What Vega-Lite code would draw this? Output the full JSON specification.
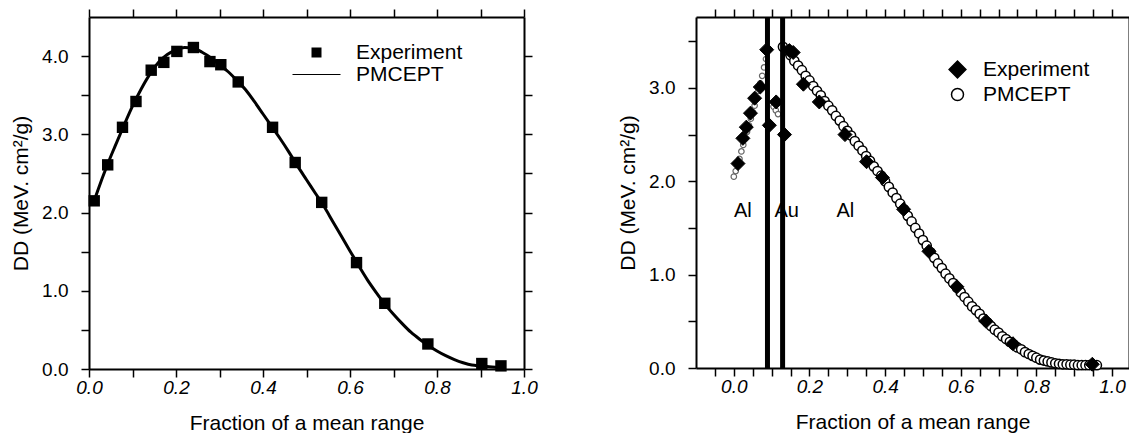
{
  "$schema": "https://vega.github.io/schema/vega-lite/v6.json",
  "background": "white",
  "padding": {"left": 10, "top": 8, "right": 0, "bottom": 0},
  "config": {
    "font": "Liberation Sans",
    "view": {"stroke": null},
    "axis": {"grid": false, "domainColor": "#000", "domainWidth": 2, "tickColor": "#000", "tickWidth": 1.5, "tickSize": 8, "labelFontSize": 19, "labelColor": "#000", "titleFontSize": 21, "titleFontWeight": "normal", "titleColor": "#000", "labelFlush": false, "labelOverlap": false},
    "axisX": {"labelPadding": 1, "titlePadding": 15},
    "axisY": {"labelPadding": 13, "titlePadding": 10},
    "legend": {"labelFontSize": 21, "labelColor": "#000"}
  },
  "datasets": {
    "leftExp": [
      {"x": 0.012, "y": 2.15, "series": "Experiment"},
      {"x": 0.043, "y": 2.61, "series": "Experiment"},
      {"x": 0.077, "y": 3.09, "series": "Experiment"},
      {"x": 0.108, "y": 3.42, "series": "Experiment"},
      {"x": 0.143, "y": 3.82, "series": "Experiment"},
      {"x": 0.172, "y": 3.92, "series": "Experiment"},
      {"x": 0.202, "y": 4.06, "series": "Experiment"},
      {"x": 0.240, "y": 4.11, "series": "Experiment"},
      {"x": 0.278, "y": 3.93, "series": "Experiment"},
      {"x": 0.303, "y": 3.89, "series": "Experiment"},
      {"x": 0.343, "y": 3.67, "series": "Experiment"},
      {"x": 0.422, "y": 3.09, "series": "Experiment"},
      {"x": 0.474, "y": 2.64, "series": "Experiment"},
      {"x": 0.535, "y": 2.13, "series": "Experiment"},
      {"x": 0.615, "y": 1.36, "series": "Experiment"},
      {"x": 0.680, "y": 0.84, "series": "Experiment"},
      {"x": 0.779, "y": 0.32, "series": "Experiment"},
      {"x": 0.903, "y": 0.07, "series": "Experiment"},
      {"x": 0.947, "y": 0.04, "series": "Experiment"}
    ],
    "leftCurve": [
      {"x": 0.01, "y": 2.12}, {"x": 0.02, "y": 2.28}, {"x": 0.04, "y": 2.58}, {"x": 0.06, "y": 2.85},
      {"x": 0.08, "y": 3.11}, {"x": 0.10, "y": 3.36}, {"x": 0.12, "y": 3.58}, {"x": 0.14, "y": 3.77},
      {"x": 0.16, "y": 3.92}, {"x": 0.18, "y": 4.02}, {"x": 0.20, "y": 4.08}, {"x": 0.22, "y": 4.11},
      {"x": 0.24, "y": 4.10}, {"x": 0.26, "y": 4.05}, {"x": 0.28, "y": 3.98}, {"x": 0.30, "y": 3.89},
      {"x": 0.32, "y": 3.80}, {"x": 0.34, "y": 3.69}, {"x": 0.36, "y": 3.57}, {"x": 0.38, "y": 3.42},
      {"x": 0.40, "y": 3.26}, {"x": 0.42, "y": 3.10}, {"x": 0.44, "y": 2.94}, {"x": 0.46, "y": 2.77},
      {"x": 0.48, "y": 2.59}, {"x": 0.50, "y": 2.42}, {"x": 0.52, "y": 2.25}, {"x": 0.54, "y": 2.08},
      {"x": 0.56, "y": 1.89}, {"x": 0.58, "y": 1.70}, {"x": 0.60, "y": 1.51}, {"x": 0.62, "y": 1.32},
      {"x": 0.64, "y": 1.14}, {"x": 0.66, "y": 0.98}, {"x": 0.68, "y": 0.83}, {"x": 0.70, "y": 0.70},
      {"x": 0.72, "y": 0.58}, {"x": 0.74, "y": 0.47}, {"x": 0.76, "y": 0.38}, {"x": 0.78, "y": 0.30},
      {"x": 0.80, "y": 0.23}, {"x": 0.82, "y": 0.17}, {"x": 0.84, "y": 0.12}, {"x": 0.86, "y": 0.08},
      {"x": 0.88, "y": 0.05}, {"x": 0.90, "y": 0.04}, {"x": 0.92, "y": 0.03}, {"x": 0.955, "y": 0.02}
    ],
    "rightSim": [
      {"x": 0.13, "y": 3.44, "series": "PMCEPT"}, {"x": 0.14, "y": 3.40, "series": "PMCEPT"},
      {"x": 0.15, "y": 3.35, "series": "PMCEPT"}, {"x": 0.16, "y": 3.29, "series": "PMCEPT"},
      {"x": 0.17, "y": 3.24, "series": "PMCEPT"}, {"x": 0.18, "y": 3.19, "series": "PMCEPT"},
      {"x": 0.19, "y": 3.13, "series": "PMCEPT"}, {"x": 0.20, "y": 3.08, "series": "PMCEPT"},
      {"x": 0.21, "y": 3.02, "series": "PMCEPT"}, {"x": 0.22, "y": 2.97, "series": "PMCEPT"},
      {"x": 0.23, "y": 2.92, "series": "PMCEPT"}, {"x": 0.24, "y": 2.86, "series": "PMCEPT"},
      {"x": 0.25, "y": 2.81, "series": "PMCEPT"}, {"x": 0.26, "y": 2.76, "series": "PMCEPT"},
      {"x": 0.27, "y": 2.70, "series": "PMCEPT"}, {"x": 0.28, "y": 2.65, "series": "PMCEPT"},
      {"x": 0.29, "y": 2.59, "series": "PMCEPT"}, {"x": 0.30, "y": 2.54, "series": "PMCEPT"},
      {"x": 0.31, "y": 2.49, "series": "PMCEPT"}, {"x": 0.32, "y": 2.43, "series": "PMCEPT"},
      {"x": 0.33, "y": 2.38, "series": "PMCEPT"}, {"x": 0.34, "y": 2.33, "series": "PMCEPT"},
      {"x": 0.35, "y": 2.27, "series": "PMCEPT"}, {"x": 0.36, "y": 2.22, "series": "PMCEPT"},
      {"x": 0.37, "y": 2.16, "series": "PMCEPT"}, {"x": 0.38, "y": 2.11, "series": "PMCEPT"},
      {"x": 0.39, "y": 2.06, "series": "PMCEPT"}, {"x": 0.40, "y": 2.00, "series": "PMCEPT"},
      {"x": 0.41, "y": 1.94, "series": "PMCEPT"}, {"x": 0.42, "y": 1.88, "series": "PMCEPT"},
      {"x": 0.43, "y": 1.82, "series": "PMCEPT"}, {"x": 0.44, "y": 1.76, "series": "PMCEPT"},
      {"x": 0.45, "y": 1.70, "series": "PMCEPT"}, {"x": 0.46, "y": 1.63, "series": "PMCEPT"},
      {"x": 0.47, "y": 1.57, "series": "PMCEPT"}, {"x": 0.48, "y": 1.50, "series": "PMCEPT"},
      {"x": 0.49, "y": 1.44, "series": "PMCEPT"}, {"x": 0.50, "y": 1.37, "series": "PMCEPT"},
      {"x": 0.51, "y": 1.31, "series": "PMCEPT"}, {"x": 0.52, "y": 1.24, "series": "PMCEPT"},
      {"x": 0.53, "y": 1.18, "series": "PMCEPT"}, {"x": 0.54, "y": 1.12, "series": "PMCEPT"},
      {"x": 0.55, "y": 1.07, "series": "PMCEPT"}, {"x": 0.56, "y": 1.01, "series": "PMCEPT"},
      {"x": 0.57, "y": 0.96, "series": "PMCEPT"}, {"x": 0.58, "y": 0.91, "series": "PMCEPT"},
      {"x": 0.59, "y": 0.86, "series": "PMCEPT"}, {"x": 0.60, "y": 0.81, "series": "PMCEPT"},
      {"x": 0.61, "y": 0.76, "series": "PMCEPT"}, {"x": 0.62, "y": 0.71, "series": "PMCEPT"},
      {"x": 0.63, "y": 0.66, "series": "PMCEPT"}, {"x": 0.64, "y": 0.62, "series": "PMCEPT"},
      {"x": 0.65, "y": 0.58, "series": "PMCEPT"}, {"x": 0.66, "y": 0.53, "series": "PMCEPT"},
      {"x": 0.67, "y": 0.49, "series": "PMCEPT"}, {"x": 0.68, "y": 0.45, "series": "PMCEPT"},
      {"x": 0.69, "y": 0.41, "series": "PMCEPT"}, {"x": 0.70, "y": 0.38, "series": "PMCEPT"},
      {"x": 0.71, "y": 0.34, "series": "PMCEPT"}, {"x": 0.72, "y": 0.31, "series": "PMCEPT"},
      {"x": 0.73, "y": 0.28, "series": "PMCEPT"}, {"x": 0.74, "y": 0.25, "series": "PMCEPT"},
      {"x": 0.75, "y": 0.22, "series": "PMCEPT"}, {"x": 0.76, "y": 0.20, "series": "PMCEPT"},
      {"x": 0.77, "y": 0.17, "series": "PMCEPT"}, {"x": 0.78, "y": 0.15, "series": "PMCEPT"},
      {"x": 0.79, "y": 0.13, "series": "PMCEPT"}, {"x": 0.80, "y": 0.11, "series": "PMCEPT"},
      {"x": 0.81, "y": 0.09, "series": "PMCEPT"}, {"x": 0.82, "y": 0.08, "series": "PMCEPT"},
      {"x": 0.83, "y": 0.07, "series": "PMCEPT"}, {"x": 0.84, "y": 0.06, "series": "PMCEPT"},
      {"x": 0.85, "y": 0.05, "series": "PMCEPT"}, {"x": 0.86, "y": 0.045, "series": "PMCEPT"},
      {"x": 0.87, "y": 0.04, "series": "PMCEPT"}, {"x": 0.88, "y": 0.04, "series": "PMCEPT"},
      {"x": 0.89, "y": 0.035, "series": "PMCEPT"}, {"x": 0.90, "y": 0.035, "series": "PMCEPT"},
      {"x": 0.91, "y": 0.03, "series": "PMCEPT"}, {"x": 0.92, "y": 0.03, "series": "PMCEPT"},
      {"x": 0.93, "y": 0.03, "series": "PMCEPT"}, {"x": 0.94, "y": 0.03, "series": "PMCEPT"},
      {"x": 0.95, "y": 0.03, "series": "PMCEPT"}, {"x": 0.96, "y": 0.03, "series": "PMCEPT"}
    ],
    "rightExp": [
      {"x": 0.011, "y": 2.19, "series": "Experiment"}, {"x": 0.024, "y": 2.46, "series": "Experiment"},
      {"x": 0.033, "y": 2.58, "series": "Experiment"}, {"x": 0.044, "y": 2.73, "series": "Experiment"},
      {"x": 0.055, "y": 2.89, "series": "Experiment"}, {"x": 0.070, "y": 3.01, "series": "Experiment"},
      {"x": 0.087, "y": 3.41, "series": "Experiment"}, {"x": 0.094, "y": 2.60, "series": "Experiment"},
      {"x": 0.112, "y": 2.85, "series": "Experiment"}, {"x": 0.134, "y": 2.50, "series": "Experiment"},
      {"x": 0.147, "y": 3.40, "series": "Experiment"}, {"x": 0.157, "y": 3.38, "series": "Experiment"},
      {"x": 0.184, "y": 3.04, "series": "Experiment"}, {"x": 0.226, "y": 2.85, "series": "Experiment"},
      {"x": 0.294, "y": 2.50, "series": "Experiment"}, {"x": 0.351, "y": 2.21, "series": "Experiment"},
      {"x": 0.393, "y": 2.04, "series": "Experiment"}, {"x": 0.449, "y": 1.70, "series": "Experiment"},
      {"x": 0.516, "y": 1.25, "series": "Experiment"}, {"x": 0.590, "y": 0.87, "series": "Experiment"},
      {"x": 0.667, "y": 0.50, "series": "Experiment"}, {"x": 0.738, "y": 0.26, "series": "Experiment"},
      {"x": 0.948, "y": 0.04, "series": "Experiment"}
    ],
    "rightGrey": [
      {"x": 0.000, "y": 2.05}, {"x": 0.005, "y": 2.11}, {"x": 0.010, "y": 2.17}, {"x": 0.015, "y": 2.24},
      {"x": 0.020, "y": 2.32}, {"x": 0.025, "y": 2.39}, {"x": 0.030, "y": 2.46}, {"x": 0.035, "y": 2.53},
      {"x": 0.040, "y": 2.60}, {"x": 0.045, "y": 2.67}, {"x": 0.050, "y": 2.74}, {"x": 0.055, "y": 2.81},
      {"x": 0.060, "y": 2.89}, {"x": 0.065, "y": 2.97}, {"x": 0.070, "y": 3.05}, {"x": 0.075, "y": 3.13},
      {"x": 0.080, "y": 3.22}, {"x": 0.085, "y": 3.31},
      {"x": 0.105, "y": 2.80}, {"x": 0.111, "y": 2.76}, {"x": 0.117, "y": 2.72}
    ],
    "rightLabels": [
      {"x": 0.024, "y": 1.68, "label": "Al"},
      {"x": 0.140, "y": 1.68, "label": "Au"},
      {"x": 0.295, "y": 1.68, "label": "Al"}
    ],
    "rightAu": [{"x": 0.089}, {"x": 0.129}]
  },
  "spacing": 172,
  "bounds": "flush",
  "resolve": {
    "scale": {"x": "independent", "y": "independent", "shape": "independent", "fill": "independent"},
    "legend": {"shape": "independent", "fill": "independent"}
  },
  "hconcat": [
    {
      "width": 435,
      "height": 352,
      "resolve": {"axis": {"x": "independent", "y": "independent"}},
      "layer": [
        {
          "data": {"name": "leftCurve"},
          "mark": {"type": "line", "color": "#000", "strokeWidth": 3, "interpolate": "monotone"},
          "encoding": {
            "x": {"field": "x", "type": "quantitative", "scale": {"domain": [0, 1], "nice": false, "zero": false},
              "axis": {"orient": "bottom", "title": "Fraction of a mean range", "values": [0, 0.1, 0.2, 0.3, 0.4, 0.5, 0.6, 0.7, 0.8, 0.9, 1],
                "labelExpr": "round(datum.value * 10) % 2 == 0 ? format(datum.value, '.1f') : ''", "labelFontStyle": "italic"}},
            "y": {"field": "y", "type": "quantitative", "scale": {"domain": [0, 4.5], "nice": false, "zero": false},
              "axis": {"orient": "left", "title": "DD (MeV. cm²/g)", "values": [0, 0.5, 1, 1.5, 2, 2.5, 3, 3.5, 4],
                "labelExpr": "round(datum.value * 2) % 2 == 0 ? format(datum.value, '.1f') : ''"}}
          }
        },
        {
          "data": {"name": "leftExp"},
          "mark": {"type": "point", "filled": true, "color": "#000", "size": 130, "opacity": 1},
          "encoding": {
            "x": {"field": "x", "type": "quantitative", "scale": {"domain": [0, 1], "nice": false, "zero": false},
              "axis": {"orient": "top", "labels": false, "title": null, "values": [0, 0.1, 0.2, 0.3, 0.4, 0.5, 0.6, 0.7, 0.8, 0.9, 1]}},
            "y": {"field": "y", "type": "quantitative", "scale": {"domain": [0, 4.5], "nice": false, "zero": false},
              "axis": {"orient": "right", "labels": false, "title": null, "values": [0, 0.5, 1, 1.5, 2, 2.5, 3, 3.5, 4]}},
            "shape": {"field": "series", "type": "nominal",
              "scale": {"domain": ["Experiment", "PMCEPT"], "range": ["square", "M-4.8,-0.12L4.8,-0.12L4.8,0.12L-4.8,0.12Z"]},
              "legend": {"title": null, "orient": "none", "legendX": 217, "legendY": 25, "padding": 0,
                "labelOffset": 29, "labelLimit": 300, "rowPadding": 0, "symbolSize": 100,
                "encode": {"symbols": {
                  "fill": {"value": "#000"},
                  "stroke": {"value": "#000"},
                  "strokeWidth": {"value": 1},
                  "opacity": {"value": 1}
                }}}
            }
          }
        }
      ]
    },
    {
      "width": 433,
      "height": 351,
      "resolve": {"axis": {"x": "independent", "y": "independent"}},
      "layer": [
        {
          "data": {"name": "rightGrey"},
          "mark": {"type": "point", "shape": "circle", "filled": true, "fill": "#fff", "stroke": "#666", "strokeWidth": 1.2, "size": 30, "opacity": 1},
          "encoding": {
            "x": {"field": "x", "type": "quantitative", "scale": {"domain": [-0.1, 1.045], "nice": false, "zero": false},
              "axis": {"orient": "top", "labels": false, "title": null, "values": [-0.05, 0, 0.05, 0.1, 0.15, 0.2, 0.25, 0.3, 0.35, 0.4, 0.45, 0.5, 0.55, 0.6, 0.65, 0.7, 0.75, 0.8, 0.85, 0.9, 0.95, 1]}},
            "y": {"field": "y", "type": "quantitative", "scale": {"domain": [0, 3.76], "nice": false, "zero": false},
              "axis": {"orient": "right", "labels": false, "ticks": false, "title": null}}
          }
        },
        {
          "data": {"name": "rightSim"},
          "mark": {"type": "point", "filled": true, "stroke": "#000", "strokeWidth": 1.5, "size": 85, "opacity": 1},
          "encoding": {
            "x": {"field": "x", "type": "quantitative", "scale": {"domain": [-0.1, 1.045], "nice": false, "zero": false},
              "axis": {"orient": "bottom", "title": "Fraction of a mean range", "values": [-0.05, 0, 0.05, 0.1, 0.15, 0.2, 0.25, 0.3, 0.35, 0.4, 0.45, 0.5, 0.55, 0.6, 0.65, 0.7, 0.75, 0.8, 0.85, 0.9, 0.95, 1],
                "labelExpr": "abs(round(datum.value * 20)) % 4 == 0 ? format(datum.value, '.1f') : ''", "labelFontStyle": "italic"}},
            "y": {"field": "y", "type": "quantitative", "scale": {"domain": [0, 3.76], "nice": false, "zero": false},
              "axis": {"orient": "left", "title": "DD (MeV. cm²/g)", "values": [0, 0.5, 1, 1.5, 2, 2.5, 3, 3.5],
                "labelExpr": "round(datum.value * 2) % 2 == 0 ? format(datum.value, '.1f') : ''"}},
            "shape": {"field": "series", "type": "nominal",
              "scale": {"domain": ["Experiment", "PMCEPT"], "range": ["M-1.4,0L0,-1.4L1.4,0L0,1.4Z", "circle"]},
              "legend": {"title": null, "orient": "none", "legendX": 251, "legendY": 42, "padding": 0,
                "labelOffset": 15, "labelLimit": 300, "rowPadding": 2, "symbolSize": 144,
                "encode": {"symbols": {"stroke": {"value": "#000"}, "strokeWidth": {"value": 1.5}, "opacity": {"value": 1}}}}
            },
            "fill": {"field": "series", "type": "nominal",
              "scale": {"domain": ["Experiment", "PMCEPT"], "range": ["#000", "#fff"]},
              "legend": {"title": null, "orient": "none", "legendX": 251, "legendY": 42, "padding": 0,
                "labelOffset": 15, "labelLimit": 300, "rowPadding": 2, "symbolSize": 144,
                "encode": {"symbols": {"stroke": {"value": "#000"}, "strokeWidth": {"value": 1.5}, "opacity": {"value": 1}}}}
            }
          }
        },
        {
          "data": {"name": "rightExp"},
          "mark": {"type": "point", "filled": true, "stroke": "#000", "strokeWidth": 1, "size": 100, "opacity": 1},
          "encoding": {
            "x": {"field": "x", "type": "quantitative", "axis": null},
            "y": {"field": "y", "type": "quantitative", "axis": null},
            "shape": {"field": "series", "type": "nominal"},
            "fill": {"field": "series", "type": "nominal"}
          }
        },
        {
          "data": {"name": "rightLabels"},
          "mark": {"type": "text", "fontSize": 20, "font": "Liberation Sans", "color": "#000", "align": "center", "baseline": "middle"},
          "encoding": {
            "x": {"field": "x", "type": "quantitative", "axis": null},
            "y": {"field": "y", "type": "quantitative", "axis": null},
            "text": {"field": "label"}
          }
        },
        {
          "data": {"name": "rightAu"},
          "mark": {"type": "rule", "color": "#000", "strokeWidth": 5},
          "encoding": {
            "x": {"field": "x", "type": "quantitative", "axis": null}
          }
        }
      ]
    }
  ]
}
